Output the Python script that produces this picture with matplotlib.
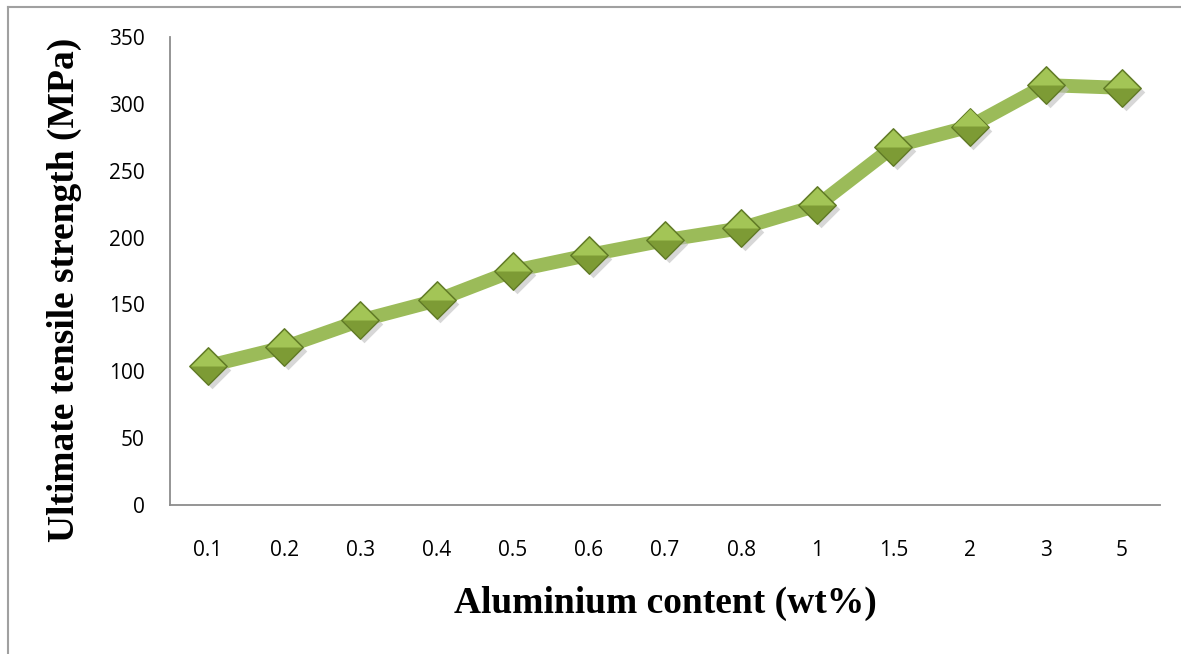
import matplotlib.pyplot as plt
from matplotlib.lines import Line2D
from matplotlib.path import Path

# Aluminium content categories and tensile strength values
al_content = ["0.1", "0.2", "0.3", "0.4", "0.5", "0.6", "0.7", "0.8", "1", "1.5", "2", "3", "5"]
uts = [104, 118, 138, 153, 175, 187, 198, 207, 224, 268, 283, 314, 312]
y_ticks = [0, 50, 100, 150, 200, 250, 300, 350]

fig = plt.figure(figsize=(11.81, 6.54), dpi=100)
ax = fig.add_axes([170 / 1181, 1 - 505 / 654, 990 / 1181, 468 / 654])

x = list(range(len(al_content)))

# thick line
ax.plot(x, uts, color="#9bbb59", linewidth=10, solid_capstyle="butt", zorder=2)

diamond = Path([(-1, 0), (0, 1), (1, 0), (0, -1), (-1, 0)],
               [Path.MOVETO, Path.LINETO, Path.LINETO, Path.LINETO, Path.CLOSEPOLY])
top_half = Path([(-1, 0), (0, 1), (1, 0), (-1, 0)],
                [Path.MOVETO, Path.LINETO, Path.LINETO, Path.CLOSEPOLY])

# diamond markers: shadow, dark base, lighter top half
ms = 27
ax.plot([i + 0.05 for i in x], [v - 3 for v in uts], linestyle="none", marker=diamond,
        markersize=ms, color="#bdbdbd", alpha=0.6, markeredgewidth=0, zorder=3)
ax.plot(x, uts, linestyle="none", marker=diamond, markersize=ms,
        markerfacecolor="#7d9b35", markeredgecolor="#607a26", markeredgewidth=1, zorder=4)
ax.plot(x, [v + 0.1 for v in uts], linestyle="none", marker=top_half, markersize=ms - 2,
        markerfacecolor="#a3c556", markeredgewidth=0, zorder=5)

ax.set_xlim(-0.5, len(al_content) - 0.5)
ax.set_ylim(0, 350)
ax.set_xticks(x)
ax.set_xticklabels(al_content)
ax.set_yticks(y_ticks)

ax.spines["top"].set_visible(False)
ax.spines["right"].set_visible(False)
for side in ["left", "bottom"]:
    ax.spines[side].set_color("#8c8c8c")
    ax.spines[side].set_linewidth(1.3)

ax.tick_params(axis="both", length=0, labelsize=15)
ax.tick_params(axis="x", pad=25)
ax.tick_params(axis="y", pad=18)
for lab in ax.get_xticklabels() + ax.get_yticklabels():
    lab.set_fontfamily("Open Sans")

ax.set_xlabel("Aluminium content (wt%)", fontsize=27, fontweight="bold",
              fontfamily="Liberation Serif", labelpad=18)
ax.set_ylabel("Ultimate tensile strength (MPa)", fontsize=27, fontweight="bold",
              fontfamily="Liberation Serif")
ax.yaxis.set_label_coords(-0.089, 0.459)

# outer frame (left and top edges visible)
fig.add_artist(Line2D([8 / 1181, 8 / 1181], [0, 1 - 7 / 654], color="#a0a0a0", linewidth=1.5))
fig.add_artist(Line2D([8 / 1181, 1], [1 - 7 / 654, 1 - 7 / 654], color="#a0a0a0", linewidth=1.5))

fig.savefig("out.png", dpi=100)
